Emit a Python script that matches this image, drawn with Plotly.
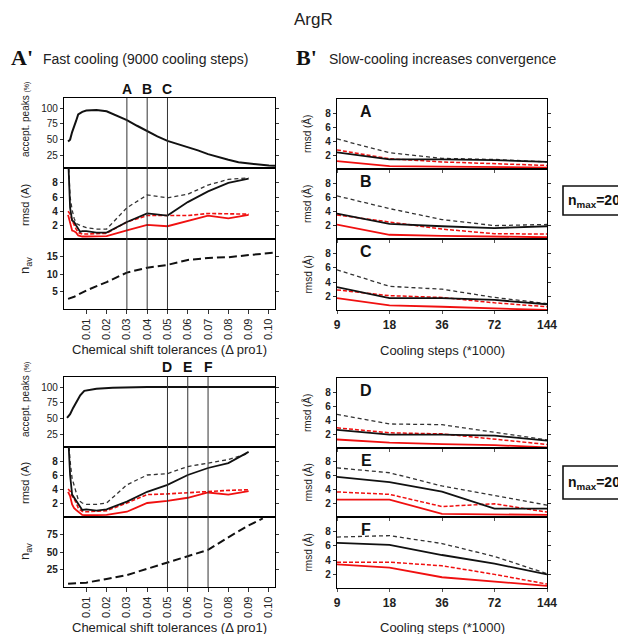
import plotly.graph_objects as go
import math

W, H = 626, 634
OFF = 8  # page body margin of the viewer; positions below are in screen pixels

# ---------------- data ----------------
# Fast cooling, n_max = 20 (top-left group)
accept_top_x = [0.001, 0.002, 0.003, 0.004, 0.005, 0.006, 0.008, 0.010, 0.015, 0.020, 0.025, 0.030,
                0.035, 0.040, 0.045, 0.050, 0.055, 0.060, 0.065, 0.070, 0.075, 0.080, 0.085, 0.090,
                0.095, 0.100, 0.103]
accept_top = [47, 50, 62, 70, 80, 90, 94, 96, 97, 95, 88, 81, 72, 63, 55, 48, 43, 39, 33, 27, 22, 18,
              14, 12, 10, 9, 8.5]

rmsd_x = [0.001, 0.002, 0.003, 0.004, 0.005, 0.006, 0.007, 0.008, 0.010, 0.015, 0.020, 0.030, 0.040,
          0.050, 0.060, 0.070, 0.080, 0.090]
rmsd_top_black = [12, 4.5, 2.7, 2.5, 2.0, 1.5, 1.1, 1.2, 1.2, 1.0, 1.0, 2.5, 3.7, 3.4, 5.3, 6.8, 8.0, 8.6]
rmsd_top_black_dash = [12, 6.0, 4.2, 3.0, 2.3, 2.1, 2.0, 1.9, 1.7, 1.5, 1.5, 4.5, 6.3, 5.9, 6.4, 7.7, 8.5, 8.7]
rmsd_top_red = [3.5, 2.4, 1.3, 1.2, 1.0, 0.6, 0.5, 0.45, 0.45, 0.45, 0.5, 1.3, 2.1, 1.9, 2.7, 3.4, 3.0, 3.5]
rmsd_top_red_dash = [4.0, 3.6, 2.7, 2.0, 1.5, 1.0, 0.9, 0.8, 0.8, 0.8, 0.9, 2.5, 3.4, 3.4, 3.4, 3.7, 3.6, 3.6]

nav_top_x = [0.001, 0.004, 0.010, 0.020, 0.030, 0.040, 0.050, 0.060, 0.070, 0.080, 0.090, 0.100, 0.103]
nav_top = [2.9, 3.5, 5.3, 7.7, 10.4, 11.8, 12.6, 14.0, 14.6, 14.8, 15.4, 15.8, 16.1]

# Fast cooling, n_max = 200 (bottom-left group)
accept_bot_x = [0.0005, 0.002, 0.0035, 0.005, 0.007, 0.009, 0.012, 0.015, 0.023, 0.040, 0.103]
accept_bot = [51, 57, 67, 75, 87, 94, 96, 97.5, 99, 100, 100]

rmsd_bot_black = [12, 6.0, 3.2, 2.75, 2.3, 1.8, 1.3, 1.0, 1.1, 0.9, 1.1, 2.2, 3.6, 4.6, 6.0, 7.0, 7.7, 9.3]
rmsd_bot_black_dash = [12, 8.0, 5.5, 4.5, 3.5, 2.5, 2.2, 2.0, 1.8, 1.8, 2.0, 4.6, 6.0, 6.2, 7.2, 7.7, 8.2, 9.1]
rmsd_bot_red = [3.6, 3.0, 1.8, 1.25, 1.0, 0.8, 0.5, 0.3, 0.25, 0.25, 0.3, 0.75, 2.0, 2.3, 2.75, 3.5, 3.2, 3.7]
rmsd_bot_red_dash = [4.0, 3.7, 3.0, 2.6, 2.0, 1.3, 1.0, 0.8, 0.75, 0.8, 0.9, 2.0, 3.2, 3.3, 3.5, 3.7, 3.8, 3.9]

nav_bot_x = [0.001, 0.010, 0.020, 0.030, 0.040, 0.050, 0.060, 0.070, 0.080, 0.090, 0.097]
nav_bot = [4.5, 6.2, 11.5, 17, 26, 35, 45, 53, 71, 88, 98]

cst_ticks = [0.01, 0.02, 0.03, 0.04, 0.05, 0.06, 0.07, 0.08, 0.09, 0.10]
cst_labels = ["0.01", "0.02", "0.03", "0.04", "0.05", "0.06", "0.07", "0.08", "0.09", "0.10"]
marks_top = [0.03, 0.04, 0.05]
marks_top_labels = ["A", "B", "C"]
marks_bot = [0.05, 0.06, 0.07]
marks_bot_labels = ["D", "E", "F"]

# Slow cooling panels (rmsd vs cooling steps)
cooling_steps = [9, 18, 36, 72, 144]
A_black = [2.45, 1.45, 1.45, 1.35, 1.1]
A_black_dash = [4.35, 2.4, 1.6, 1.45, 1.1]
A_red = [1.2, 0.5, 0.45, 0.4, 0.3]
A_red_dash = [2.8, 1.55, 1.1, 0.85, 0.6]

B_black = [3.7, 2.25, 1.9, 1.65, 1.9]
B_black_dash = [6.2, 4.4, 2.85, 2.0, 2.15]
B_red = [2.15, 0.7, 0.55, 0.4, 0.35]
B_red_dash = [3.5, 2.5, 1.5, 0.85, 0.8]

C_black = [3.3, 1.75, 1.75, 1.5, 0.9]
C_black_dash = [5.7, 3.4, 3.0, 1.85, 1.0]
C_red = [1.75, 0.75, 0.55, 0.35, 0.1]
C_red_dash = [2.9, 2.1, 1.85, 1.1, 0.55]

D_black = [2.65, 2.0, 2.0, 1.85, 1.15]
D_black_dash = [4.85, 3.5, 3.4, 2.3, 1.25]
D_red = [1.3, 0.85, 0.65, 0.5, 0.2]
D_red_dash = [2.95, 2.25, 2.1, 1.4, 0.6]

E_black = [5.85, 5.1, 3.75, 1.3, 1.3]
E_black_dash = [7.15, 6.45, 4.55, 3.2, 1.8]
E_red = [2.6, 2.6, 0.55, 0.5, 0.4]
E_red_dash = [3.7, 3.35, 1.6, 2.0, 0.8]

F_black = [6.4, 6.1, 4.7, 3.5, 2.0]
F_black_dash = [7.2, 7.4, 6.3, 4.5, 2.1]
F_red = [3.4, 2.95, 1.6, 1.0, 0.4]
F_red_dash = [3.7, 3.7, 3.2, 2.0, 0.65]

slow_panels = [
    ("A", A_black, A_black_dash, A_red, A_red_dash),
    ("B", B_black, B_black_dash, B_red, B_red_dash),
    ("C", C_black, C_black_dash, C_red, C_red_dash),
    ("D", D_black, D_black_dash, D_red, D_red_dash),
    ("E", E_black, E_black_dash, E_red, E_red_dash),
    ("F", F_black, F_black_dash, F_red, F_red_dash),
]

# ---------------- helpers ----------------
FONT = "Liberation Sans, Arial, sans-serif"
RED = "#f01010"


def px(x):
    return (x - OFF) / W


def py(y):
    return 1 - (y - OFF) / H


fig = go.Figure()
layout = {}

LEFT_X = (64, 275)
RIGHT_X = (337, 547)
left_rows = [(98, 168), (168, 239), (239, 309), (377, 447), (447, 517), (517, 587)]
right_rows = [(99, 169), (169, 239), (239, 310), (378, 448), (448, 517), (517, 588)]


def axis_name(n, kind):
    return f"{kind}axis" if n == 1 else f"{kind}axis{n}"


def ref(n, kind):
    return kind if n == 1 else f"{kind}{n}"


def add_line(n, x, y, color, width, dash="solid"):
    fig.add_trace(go.Scatter(x=x, y=y, mode="lines", xaxis=ref(n, "x"), yaxis=ref(n, "y"),
                             line=dict(color=color, width=width, dash=dash), showlegend=False,
                             hoverinfo="skip"))


def note(x, y, text, size, weight="normal", angle=0, xanchor="center", family=FONT,
         color="#222", xref="paper"):
    annotations.append(dict(x=x, y=y, xref=xref, yref="paper", text=text, textangle=angle,
                            showarrow=False, xanchor=xanchor, yanchor="middle",
                            font=dict(family=family, size=size, color=color, weight=weight)))


def y_axis(n, dom_px, yrange, tickvals, bold):
    layout[axis_name(n, "y")] = dict(
        domain=[py(dom_px[1]), py(dom_px[0])], range=yrange, anchor=ref(n, "x"),
        tickvals=tickvals, ticks="outside", ticklen=3, tickwidth=1, tickcolor="#333",
        showline=True, linecolor="black", linewidth=1.2, mirror="ticks",
        showgrid=False, zeroline=False, automargin=False,
        tickfont=dict(family=FONT, size=10, color="#222", weight="bold" if bold else "normal"),
        fixedrange=True)


shapes = []
annotations = []

# ---------------- left panels ----------------
cst_range = [-0.001, 0.103]
left_specs = [
    (1, [5, 116], [25, 50, 75, 100], False),
    (2, [0.1, 10.1], [2, 4, 6, 8], True),
    (3, [0, 20], [5, 10, 15], True),
    (4, [5, 116], [25, 50, 75, 100], False),
    (5, [0, 10], [2, 4, 6, 8], True),
    (6, [0, 100], [25, 50, 75], True),
]
for n, yr, tv, bold in left_specs:
    dom = left_rows[n - 1]
    is_bottom = n in (3, 6)
    layout[axis_name(n, "x")] = dict(
        domain=[px(LEFT_X[0]), px(LEFT_X[1])], range=cst_range, anchor=ref(n, "y"),
        tickvals=cst_ticks, ticktext=cst_labels, showticklabels=is_bottom,
        ticks="outside" if is_bottom else "", ticklen=4, tickcolor="#333", tickangle=-90,
        showline=True, linecolor="black", linewidth=1.2, mirror=True,
        showgrid=False, zeroline=False, automargin=False,
        tickfont=dict(family=FONT, size=11, color="#222"), fixedrange=True)
    y_axis(n, dom, yr, tv, bold)

add_line(1, accept_top_x, accept_top, "#111", 2)
add_line(2, rmsd_x, rmsd_top_black_dash, "#333", 1.3, "4px,3px")
add_line(2, rmsd_x, rmsd_top_red_dash, RED, 1.6, "4px,2px")
add_line(2, rmsd_x, rmsd_top_red, RED, 1.8)
add_line(2, rmsd_x, rmsd_top_black, "#111", 1.8)
add_line(3, nav_top_x, nav_top, "#111", 2, "8px,4px")

add_line(4, accept_bot_x, accept_bot, "#111", 2)
add_line(5, rmsd_x, rmsd_bot_black_dash, "#333", 1.3, "4px,3px")
add_line(5, rmsd_x, rmsd_bot_red_dash, RED, 1.6, "4px,2px")
add_line(5, rmsd_x, rmsd_bot_red, RED, 1.8)
add_line(5, rmsd_x, rmsd_bot_black, "#111", 1.8)
add_line(6, nav_bot_x, nav_bot, "#111", 2, "8px,4px")

for xs, labs, axn, top, bot, laby in [(marks_top, marks_top_labels, 3, 98, 309, 89),
                                       (marks_bot, marks_bot_labels, 6, 377, 587, 367)]:
    for xv, lab in zip(xs, labs):
        shapes.append(dict(type="line", xref=ref(axn, "x"), yref="paper", x0=xv, x1=xv,
                           y0=py(bot), y1=py(top), line=dict(color="#333", width=1)))
        note(xv, py(laby), lab, 14, weight="bold", color="#111", xref=ref(axn, "x"))

# left y titles
for ycen, txt, size in [(120, "accept. peaks <span style='font-size:7px'>(%)</span>", 10),
                        (205, "rmsd (A)", 11), (266, "n<sub>av</sub>", 13),
                        (400, "accept. peaks <span style='font-size:7px'>(%)</span>", 10),
                        (483, "rmsd (A)", 11), (552, "n<sub>av</sub>", 13)]:
    note(px(25), py(ycen), txt, size, angle=-90)

for ycen in (349, 627):
    note(px(170), py(ycen), "Chemical shift tolerances (\u0394 pro1)", 13)

# ---------------- right panels ----------------
for i, (lab, bk, bkd, rd, rdd) in enumerate(slow_panels):
    n = 7 + i
    dom = right_rows[i]
    is_bottom = lab in ("C", "F")
    layout[axis_name(n, "x")] = dict(
        domain=[px(RIGHT_X[0]), px(RIGHT_X[1])], type="log",
        range=[math.log10(9), math.log10(144)], anchor=ref(n, "y"),
        tickvals=cooling_steps, ticktext=[str(v) for v in cooling_steps],
        showticklabels=is_bottom, ticks="outside", ticklen=3, tickcolor="#555",
        showline=True, linecolor="black", linewidth=1.2, mirror=True,
        showgrid=False, zeroline=False, automargin=False,
        tickfont=dict(family=FONT, size=12, color="#222", weight="bold"), fixedrange=True)
    y_axis(n, dom, [0.1, 10], [2, 4, 6, 8], True)
    add_line(n, cooling_steps, bkd, "#333", 1.3, "4px,3px")
    add_line(n, cooling_steps, rdd, RED, 1.5, "4px,2px")
    add_line(n, cooling_steps, rd, RED, 1.8)
    add_line(n, cooling_steps, bk, "#111", 1.8)
    note(px(366), py(dom[0] + 12), lab, 16, weight="bold", color="#111")
    note(px(307), py((dom[0] + dom[1]) / 2), "rmsd (\u00c5)", 10, angle=-90)

for ycen in (350, 627):
    note(px(442), py(ycen), "Cooling steps (*1000)", 13)

# n_max boxes
for (y0, y1, txt) in [(186, 215, "n<sub>max</sub>=20"), (466, 499, "n<sub>max</sub>=200")]:
    shapes.append(dict(type="rect", xref="paper", yref="paper", x0=px(563), x1=px(650),
                       y0=py(y1), y1=py(y0), line=dict(color="#111", width=1.6),
                       fillcolor="white"))
    note(px(566), py((y0 + y1) / 2), txt, 14, weight="bold", xanchor="left", color="#111")

# headers
SERIF = "Liberation Serif, Times New Roman, serif"
note(px(313), py(19), "ArgR", 17)
note(px(9), py(58), "A'", 22, weight="bold", xanchor="left", family=SERIF, color="#111")
note(px(41), py(59), "Fast cooling (9000 cooling steps)", 14, xanchor="left")
note(px(294), py(58), "B'", 22, weight="bold", xanchor="left", family=SERIF, color="#111")
note(px(327), py(59), "Slow-cooling increases convergence", 14, xanchor="left")

fig.update_layout(
    width=W, height=H, margin=dict(l=0, r=0, t=0, b=0, autoexpand=False),
    paper_bgcolor="white", plot_bgcolor="white",
    shapes=shapes, annotations=annotations, showlegend=False,
    font=dict(family=FONT),
    **layout,
)

fig.write_html("out.html")
